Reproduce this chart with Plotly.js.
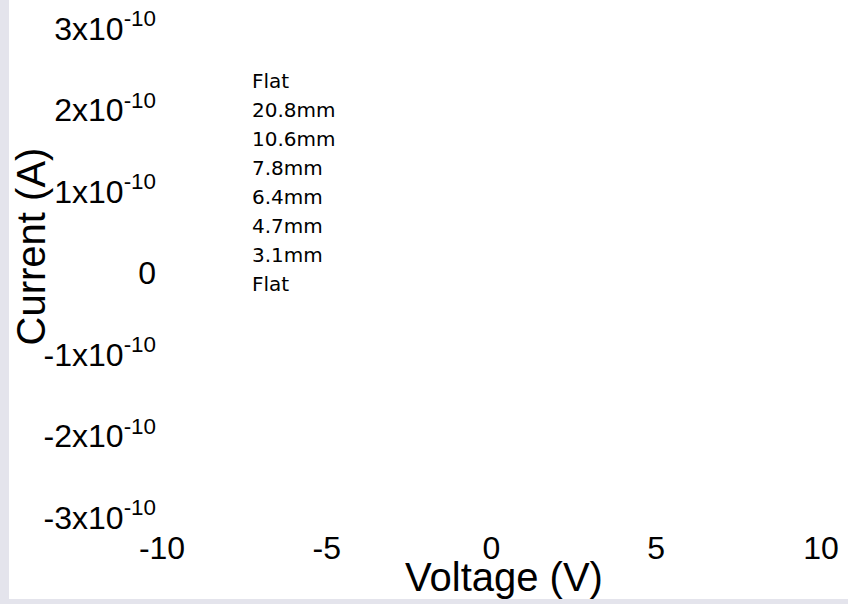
<!DOCTYPE html>
<html>
<head>
<meta charset="utf-8">
<script src="https://cdn.plot.ly/plotly-3.0.1.min.js"></script>
<style>
  html, body { margin: 0; padding: 0; background: #e4e4ec; width: 848px; height: 604px; overflow: hidden; }
  #chart { position: absolute; left: 9px; top: -56px; width: 839px; height: 655px; }
</style>
</head>
<body>
<div id="chart"></div>
<script>
// Legend entries (series names)
const seriesNames = ["Flat", "20.8mm", "10.6mm", "7.8mm", "6.4mm", "4.7mm", "3.1mm", "Flat"];
// No data points can be read in the reference (no marks are visible); each series holds no value
const voltageFlatA = [null], currentFlatA = [null];
const voltage208 = [null], current208 = [null];
const voltage106 = [null], current106 = [null];
const voltage78 = [null], current78 = [null];
const voltage64 = [null], current64 = [null];
const voltage47 = [null], current47 = [null];
const voltage31 = [null], current31 = [null];
const voltageFlatB = [null], currentFlatB = [null];

const xVoltages = [voltageFlatA, voltage208, voltage106, voltage78, voltage64, voltage47, voltage31, voltageFlatB];
const yCurrents = [currentFlatA, current208, current106, current78, current64, current47, current31, currentFlatB];

// Tick labels
const xTickVals = [-10, -5, 0, 5, 10];
const xTickText = ["-10", "-5", "0", "5", "10"];
const yTickVals = [3e-10, 2e-10, 1e-10, 0, -1e-10, -2e-10, -3e-10];
const yTickText = ["3x10<sup>-10</sup>", "2x10<sup>-10</sup>", "1x10<sup>-10</sup>", "0",
                   "-1x10<sup>-10</sup>", "-2x10<sup>-10</sup>", "-3x10<sup>-10</sup>"];

const traces = seriesNames.map((name, i) => ({
  type: 'scatter',
  mode: 'none',
  name: name,
  x: xVoltages[i],
  y: yCurrents[i],
  showlegend: true
}));

const font = "Arial, 'Liberation Sans', sans-serif";

const layout = {
  width: 839,
  height: 655,
  margin: { l: 153, r: 2, t: 20, b: 70 },
  paper_bgcolor: '#ffffff',
  plot_bgcolor: '#ffffff',
  showlegend: true,
  font: { family: font, color: '#000000' },
  xaxis: {
    range: [-10, 10.76],
    tickvals: xTickVals,
    ticktext: xTickText,
    tickfont: { family: font, size: 32, color: '#000' },
    ticklabelstandoff: -3,
    showgrid: false,
    zeroline: false,
    showline: false,
    ticks: '',
    title: { text: 'Voltage (V)', font: { family: font, size: 40, color: '#000' } }
  },
  yaxis: {
    range: [-3.139e-10, 3.79e-10],
    tickvals: yTickVals,
    ticktext: yTickText,
    tickfont: { family: font, size: 32, color: '#000' },
    ticklabelstandoff: 5,
    showgrid: false,
    zeroline: false,
    showline: false,
    ticks: '',
    title: { text: 'Current (A)', font: { family: font, size: 40, color: '#000' } }
  },
  legend: {
    x: 0.073, xanchor: 'left',
    y: 0.829, yanchor: 'top',
    bgcolor: 'rgba(0,0,0,0)',
    font: { family: "'DejaVu Sans', sans-serif", size: 20, color: '#000' }
  }
};

Plotly.newPlot('chart', traces, layout, { displayModeBar: false, staticPlot: true });
</script>
</body>
</html>
